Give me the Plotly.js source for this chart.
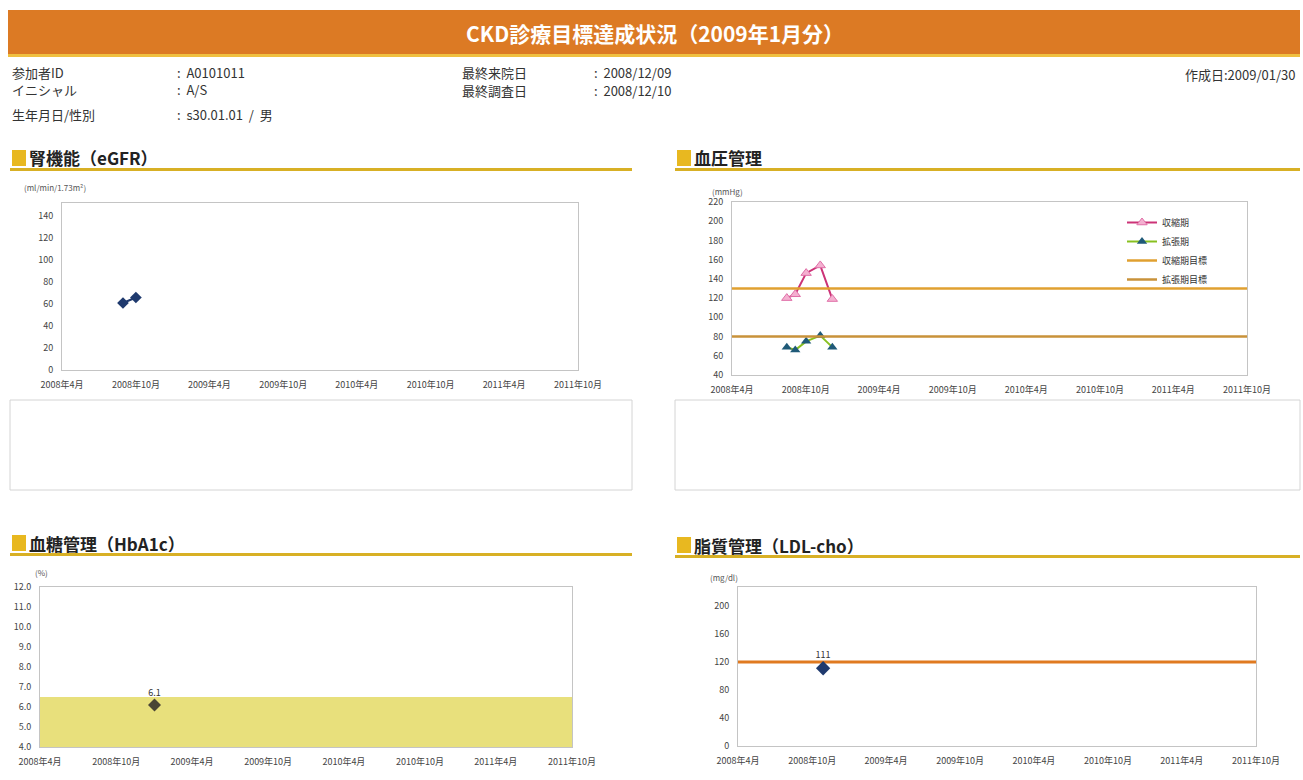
<!DOCTYPE html>
<html><head><meta charset="utf-8">
<script src="https://cdn.plot.ly/plotly-3.0.1.min.js"></script>
<style>body{margin:0;background:#fff}#chart{width:1303px;height:780px}</style>
</head><body><div id="chart"></div>
<script>
const W = 1303, H = 780;
const px = x => x / W, py = y => 1 - y / H;
const JP = '"Noto Sans CJK JP", "Noto Sans", sans-serif';

// ---- data ----
const tickDates = ['2008-04-01','2008-10-01','2009-04-01','2009-10-01','2010-04-01','2010-10-01','2011-04-01','2011-10-01'];
const tickLabels = ['2008年4月','2008年10月','2009年4月','2009年10月','2010年4月','2010年10月','2011年4月','2011年10月'];

const egfrDates = ['2008-08-30','2008-10-01'];
const egfrValues = [61, 66];
const egfrTicks = [0,20,40,60,80,100,120,140];

const bpDates = ['2008-08-15','2008-09-05','2008-10-02','2008-11-06','2008-12-06'];
const systolic = [120, 124, 146, 154, 119];
const diastolic = [69, 66, 75, 81, 69];
const refDates = ['2008-04-01','2011-10-01'];
const systolicTarget = [130, 130];
const diastolicTarget = [80, 80];
const bpNames = ['収縮期','拡張期','収縮期目標','拡張期目標'];
const bpTicks = [40,60,80,100,120,140,160,180,200,220];

const hba1cDates = ['2009-01-01'];
const hba1cValues = [6.1];
const hba1cBand = [4.0, 6.5];
const hba1cTicks = [4,5,6,7,8,9,10,11,12];
const hba1cTickText = ['4.0','5.0','6.0','7.0','8.0','9.0','10.0','11.0','12.0'];

const ldlDates = ['2008-10-28'];
const ldlValues = [111];
const ldlTarget = [120, 120];
const ldlTicks = [0,40,80,120,160,200];

// ---- axes helpers ----
function xax(x0, x1, anchor) {
  return {domain:[px(x0), px(x1)], anchor:anchor, type:'date',
    range:['2008-04-01','2011-10-01'], tickvals:tickDates, ticktext:tickLabels,
    showgrid:false, zeroline:false, showline:true, mirror:true, linecolor:'#c4c4c4', linewidth:1,
    ticks:'', ticklabelstandoff:6, tickfont:{family:JP, size:9, color:'#444'}, fixedrange:true};
}
function yax(y0, y1, anchor, range, tv, tt) {
  return {domain:[py(y1), py(y0)], anchor:anchor, range:range, tickvals:tv, ticktext:tt || tv.map(String),
    showgrid:false, zeroline:false, showline:true, mirror:true, linecolor:'#c4c4c4', linewidth:1,
    ticks:'', ticklabelstandoff:6, tickfont:{family:JP, size:9, color:'#444'}, fixedrange:true};
}

const traces = [
  {x:egfrDates, y:egfrValues, xaxis:'x', yaxis:'y', mode:'lines+markers', showlegend:false,
   line:{color:'#1f3a6e', width:2}, marker:{symbol:'diamond', size:9, color:'#1f3a6e'}},
  {x:bpDates, y:systolic, xaxis:'x2', yaxis:'y2', mode:'lines+markers', name:bpNames[0],
   line:{color:'#cc3377', width:2}, marker:{symbol:'triangle-up', size:9, color:'#f4b0d0', line:{color:'#e070a8', width:1}}},
  {x:bpDates, y:diastolic, xaxis:'x2', yaxis:'y2', mode:'lines+markers', name:bpNames[1],
   line:{color:'#88c020', width:2}, marker:{symbol:'triangle-up', size:9, color:'#1f5a78'}},
  {x:refDates, y:systolicTarget, xaxis:'x2', yaxis:'y2', mode:'lines', name:bpNames[2],
   line:{color:'#e0a030', width:2.5}},
  {x:refDates, y:diastolicTarget, xaxis:'x2', yaxis:'y2', mode:'lines', name:bpNames[3],
   line:{color:'#c8923a', width:2.5}},
  {x:hba1cDates, y:hba1cValues, xaxis:'x3', yaxis:'y3', mode:'markers+text', showlegend:false,
   text:hba1cValues.map(v => v.toFixed(1)), textposition:'top center', textfont:{family:JP, size:9, color:'#333'},
   marker:{symbol:'diamond', size:10, color:'#4a4535'}, cliponaxis:false},
  {x:refDates, y:ldlTarget, xaxis:'x4', yaxis:'y4', mode:'lines', showlegend:false,
   line:{color:'#e07a20', width:3}},
  {x:ldlDates, y:ldlValues, xaxis:'x4', yaxis:'y4', mode:'markers+text', showlegend:false,
   text:ldlValues.map(String), textposition:'top center', textfont:{family:JP, size:9, color:'#333'},
   marker:{symbol:'diamond', size:11, color:'#1f3a6e'}, cliponaxis:false}
];

// ---- decorations ----
const shapes = [
  {type:'rect', xref:'paper', yref:'paper', x0:px(8), x1:px(1300), y0:py(55), y1:py(10), fillcolor:'#dc7a24', line:{width:0}},
  {type:'rect', xref:'paper', yref:'paper', x0:px(8), x1:px(1300), y0:py(57), y1:py(54), fillcolor:'#f0c040', line:{width:0}},
  {type:'rect', xref:'paper', yref:'paper', x0:px(10), x1:px(632), y0:py(490), y1:py(400), fillcolor:'rgba(0,0,0,0)', line:{color:'#d4d4d4', width:1}},
  {type:'rect', xref:'paper', yref:'paper', x0:px(675), x1:px(1300), y0:py(490), y1:py(400), fillcolor:'rgba(0,0,0,0)', line:{color:'#d4d4d4', width:1}},
  {type:'rect', xref:'x3 domain', yref:'y3', x0:0, x1:1, y0:hba1cBand[0], y1:hba1cBand[1], fillcolor:'#e8e07c', line:{width:0}, layer:'below'}
];
const sections = [
  {x:10, x1:632, y:158, text:'腎機能（eGFR）'},
  {x:675, x1:1300, y:158, text:'血圧管理'},
  {x:10, x1:632, y:543, text:'血糖管理（HbA1c）'},
  {x:675, x1:1300, y:545, text:'脂質管理（LDL-cho）'}
];
const annotations = [];
sections.forEach(s => {
  shapes.push({type:'rect', xref:'paper', yref:'paper', x0:px(s.x+2), x1:px(s.x+16), y0:py(s.y+8), y1:py(s.y-8), fillcolor:'#e8b820', line:{width:0}});
  shapes.push({type:'rect', xref:'paper', yref:'paper', x0:px(s.x), x1:px(s.x1), y0:py(s.y+13), y1:py(s.y+10), fillcolor:'#d8b025', line:{width:0}});
  annotations.push({xref:'paper', yref:'paper', x:px(s.x+17), y:py(s.y), xanchor:'left', yanchor:'middle', showarrow:false,
    text:'<b>'+s.text+'</b>', font:{family:JP, size:17, color:'#222'}});
});
function txt(x, y, t, opt) {
  annotations.push(Object.assign({xref:'paper', yref:'paper', x:px(x), y:py(y), xanchor:'left', yanchor:'middle', showarrow:false,
    text:t, font:{family:JP, size:13, color:'#333'}}, opt || {}));
}
txt(655, 33, '<b>CKD診療目標達成状況（2009年1月分）</b>', {xanchor:'center', font:{family:JP, size:21, color:'#fff'}});
txt(10, 72, '参加者ID');
txt(10, 89, 'イニシャル');
txt(10, 114, '生年月日/性別');
txt(175, 72, ':  A0101011');
txt(175, 89, ':  A/S');
txt(175, 114, ':  s30.01.01  /  男');
txt(460, 72, '最終来院日');
txt(460, 90, '最終調査日');
txt(592, 72, ':  2008/12/09');
txt(592, 90, ':  2008/12/10');
txt(1298, 74, '作成日:2009/01/30', {xanchor:'right'});
txt(22, 187, '(ml/min/1.73m²)', {font:{family:JP, size:8, color:'#555'}});
txt(710, 191, '(mmHg)', {font:{family:JP, size:8, color:'#555'}});
txt(33, 572, '(%)', {font:{family:JP, size:8, color:'#555'}});
txt(708, 577, '(mg/dl)', {font:{family:JP, size:8, color:'#555'}});

const layout = {
  width:W, height:H, margin:{l:0, r:0, t:0, b:0}, paper_bgcolor:'#fff', plot_bgcolor:'#fff',
  showlegend:true,
  legend:{x:px(1122), y:py(208), xanchor:'left', yanchor:'top', bgcolor:'rgba(0,0,0,0)',
    font:{family:JP, size:9, color:'#333'}, tracegroupgap:0, itemwidth:30},
  xaxis: xax(62, 578, 'y'),   yaxis: yax(203, 370, 'x', [0,152], egfrTicks),
  xaxis2: xax(732, 1247, 'y2'), yaxis2: yax(202, 375, 'x2', [40,220], bpTicks),
  xaxis3: xax(40, 572, 'y3'), yaxis3: yax(587, 747, 'x3', [4,12], hba1cTicks, hba1cTickText),
  xaxis4: xax(738, 1256, 'y4'), yaxis4: yax(587, 746, 'x4', [0,227], ldlTicks),
  shapes:shapes, annotations:annotations
};
Plotly.newPlot('chart', traces, layout, {displayModeBar:false, staticPlot:true});
</script></body></html>
